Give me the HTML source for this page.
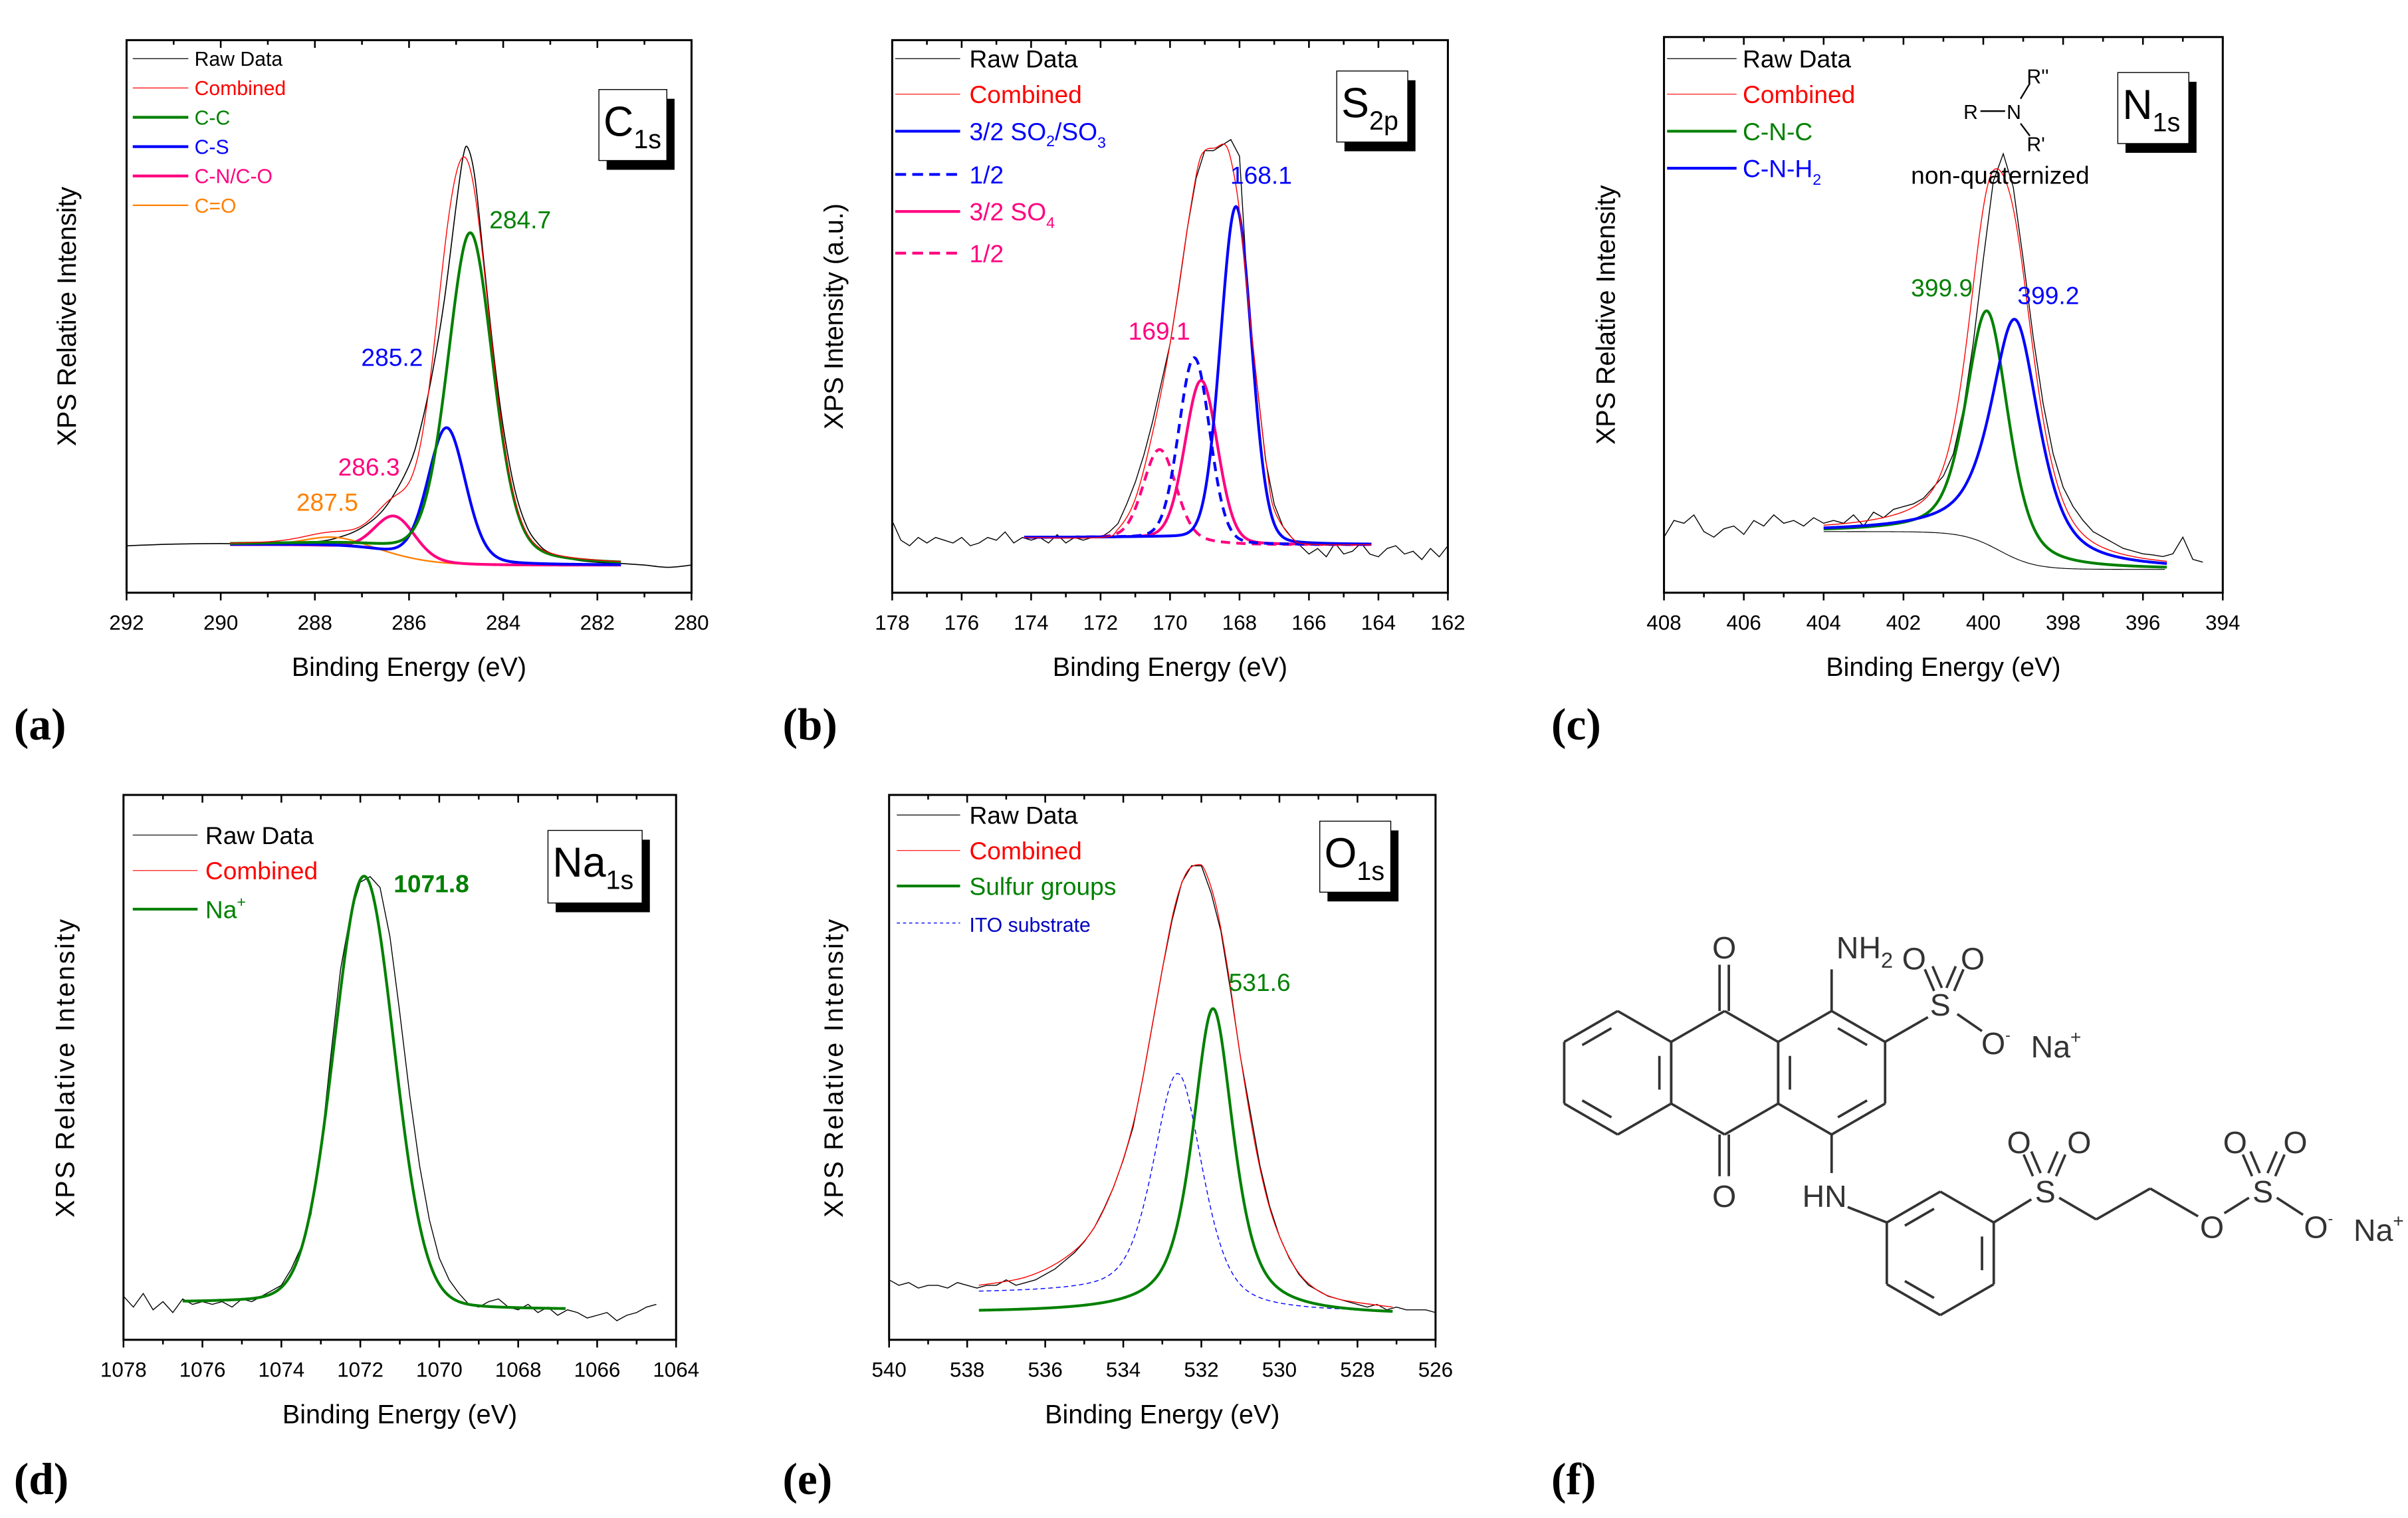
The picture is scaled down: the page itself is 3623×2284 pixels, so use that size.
<!DOCTYPE html>
<html><head><meta charset="utf-8"><title>XPS spectra</title>
<style>
html,body{margin:0;padding:0;background:#fff;}
svg{display:block;font-family:"Liberation Sans",Arial,sans-serif;}
</style></head>
<body>
<svg id="fig" xmlns="http://www.w3.org/2000/svg" width="3623" height="2284" viewBox="0 0 1560 983.45" preserveAspectRatio="none">
<rect x="0" y="0" width="1560" height="983.45" fill="#fff"/>
<g id="mol" stroke="#333" stroke-width="1.6" fill="none"></g>
</svg>
<script>
// ---------- Panel (a) C1s ----------
const aTicks=[292,290,288,286,284,282,280];
const aPeakNames=["C-C","C-S","C-N/C-O","C=O"];
const aPeakCenters=[284.7,285.2,286.3,287.6];
const aPeakHeights=[0.60,0.245,0.07,0.016];
const aPeakWidths=[1.15,0.95,1.0,1.4];
const aPeakEta=[0.3,0.2,0.1,0.1];
const aBaseline=[0.087,0.05,286.3,0.5];
const aRawX=[292,291,290,289,288,287.5,287,286.5,286,285.75,285.5,285.25,285,284.85,284.75,284.6,284.4,284.2,284,283.75,283.5,283.25,283,282.5,282,281.5,281,280.5,280];
const aRawY=[0.085,0.088,0.089,0.088,0.092,0.10,0.118,0.155,0.23,0.30,0.40,0.53,0.70,0.79,0.805,0.75,0.59,0.43,0.30,0.185,0.12,0.088,0.072,0.06,0.055,0.053,0.05,0.046,0.05];
const aLabels=["284.7","285.2","286.3","287.5"];

// ---------- Panel (b) S2p ----------
const bTicks=[178,176,174,172,170,168,166,164,162];
const bPeakCenters=[168.1,169.3,169.1,170.3];
const bPeakHeights=[0.61,0.33,0.29,0.16];
const bPeakWidths=[1.05,1.05,1.1,1.1];
const bPeakEta=[0.1,0.1,0.1,0.1];
const bBaseline=[0.1,0.087,169,0.5];
const bCombX=[174.2,172,171.5,171,170.5,170,169.5,169.2,169,168.7,168.4,168.2,168,167.8,167.5,167.2,167,166.5,166,164.2];
const bCombY=[0.1,0.1,0.115,0.17,0.29,0.45,0.66,0.77,0.8,0.805,0.81,0.77,0.69,0.56,0.38,0.22,0.15,0.1,0.088,0.087];
const bRawY=[0.13,0.095,0.085,0.1,0.09,0.1,0.095,0.09,0.1,0.085,0.09,0.1,0.095,0.11,0.09,0.1,
 0.095,0.1,0.09,0.105,0.09,0.1,0.095,0.1,
 0.1,0.11,0.125,0.16,0.2,0.25,0.31,0.38,0.45,
 0.55,0.66,0.75,0.8,0.8,0.81,0.82,0.79,
 0.53,0.38,0.24,0.16,0.12,0.1,0.085,0.07,
 0.08,0.065,0.09,0.07,0.075,0.09,0.07,0.065,0.08,0.085,0.07,0.075,0.06,0.08,0.065,0.085];
const bLabels=["168.1","169.1"];

// ---------- Panel (c) N1s ----------
const cTicks=[408,406,404,402,400,398,396,394];
const cPeakCenters=[399.9,399.2];
const cPeakHeights=[0.42,0.43];
const cPeakWidths=[1.25,1.45];
const cPeakEta=[0.5,0.7];
const cBaseline=[0.11,0.042,399.6,0.45];
const cRawY=[0.1,0.13,0.125,0.14,0.11,0.1,0.115,0.12,0.105,0.13,0.12,0.14,0.125,0.13,0.12,0.135,0.125,
 0.13,0.125,0.14,0.12,0.145,0.135,0.15,0.155,0.16,0.17,0.19,0.21,
 0.25,0.33,0.45,0.6,0.74,0.79,0.73,0.6,0.46,0.34,0.25,
 0.19,0.155,0.13,0.11,0.1,0.09,0.08,0.075,0.07,0.068,
 0.065,0.07,0.1,0.06,0.055];
const cLabels=["399.9","399.2"];

// ---------- Panel (d) Na1s ----------
const dTicks=[1078,1076,1074,1072,1070,1068,1066,1064];
const dPeakCenters=[1071.9];
const dPeakHeights=[0.79];
const dPeakWidths=[1.8];
const dPeakEta=[0.1];
const dBaseline=[0.068,0.055,1072,0.5];
const dRawY=[0.08,0.06,0.085,0.055,0.07,0.05,0.075,0.065,0.07,
 0.065,0.07,0.06,0.075,0.07,0.08,0.09,0.1,0.13,0.17,0.23,
 0.35,0.52,0.68,0.78,0.84,0.85,0.83,0.74,0.6,0.45,
 0.32,0.22,0.15,0.11,0.085,0.065,0.06,0.07,0.075,0.06,
 0.055,0.065,0.05,0.06,0.045,0.055,0.05,0.04,0.045,0.05,0.035,0.045,0.05,0.06,0.065];
const dLabels=["1071.8"];

// ---------- Panel (e) O1s ----------
const eTicks=[540,538,536,534,532,530,528,526];
const ePeakCenters=[531.7,532.6];
const ePeakHeights=[0.56,0.42];
const ePeakWidths=[1.25,1.5];
const ePeakEta=[0.7,0.5];
const eBaseline=[0.062,0.045,531.5,0.7];
const eCombX=[537.7,536.5,535.5,534.8,534.2,533.7,533.3,533,532.7,532.4,532.1,531.9,531.6,531.3,531,530.6,530.2,529.7,529.2,528.5,527.1];
const eCombY=[0.1,0.115,0.15,0.2,0.29,0.41,0.56,0.68,0.79,0.855,0.872,0.86,0.79,0.67,0.52,0.35,0.23,0.145,0.1,0.075,0.06];
const eRawY=[0.11,0.1,0.105,0.095,0.1,0.1,0.095,0.105,0.1,0.095,0.1,0.1,0.11,0.1,0.105,0.11,
 0.12,0.13,0.145,0.16,0.18,0.205,0.24,0.28,0.33,0.39,
 0.48,0.58,0.68,0.77,0.84,0.87,0.87,0.82,0.75,0.64,0.52,0.42,
 0.32,0.245,0.19,0.15,0.12,0.1,0.09,0.08,0.075,0.07,0.065,
 0.06,0.065,0.055,0.06,0.055,0.055,0.055,0.05];
const eLabels=["531.6"];

const NS="http://www.w3.org/2000/svg";
const svg=document.getElementById('fig');
const GREEN="#008000",BLUE="#0000ff",PINK="#ff0080",ORANGE="#ff8000",RED="#ff0000";

function mk(tag,attrs,parent){const e=document.createElementNS(NS,tag);for(const k in attrs)e.setAttribute(k,attrs[k]);(parent||svg).appendChild(e);return e;}
function pv(x,c,h,w,eta){const t=(x-c)/w;return h*(eta/(1+4*t*t)+(1-eta)*Math.exp(-4*Math.LN2*t*t));}
function bl(x,b){return b[1]+(b[0]-b[1])/(1+Math.exp(-(x-b[2])/b[3]));}

function makeAxes(P){
  const sx=v=>P.x0+(P.xl-v)/(P.xl-P.xr)*(P.x1-P.x0);
  const sy=f=>P.yb-f*(P.yb-P.yt);
  return {sx,sy};
}
function framePanel(P,ticks,g){
  const {sx}=makeAxes(P);
  const fr=mk('rect',{x:P.x0,y:P.yt,width:P.x1-P.x0,height:P.yb-P.yt,fill:'none',stroke:'#000','stroke-width':1.3},g);
  
  
  const tg=mk('g',{},g);
  
  
  const step=(ticks[0]-ticks[1])/2;
  for(let v=ticks[0];v>=ticks[ticks.length-1]-1e-9;v-=step){
    const major=Math.abs((ticks[0]-v)/(ticks[0]-ticks[1])-Math.round((ticks[0]-v)/(ticks[0]-ticks[1])))<1e-6;
    const L=major?5:3;
    mk('line',{x1:sx(v),x2:sx(v),y1:P.yb,y2:P.yb+L,stroke:'#000','stroke-width':1.1},tg);
    mk('line',{x1:sx(v),x2:sx(v),y1:P.yt,y2:P.yt+L,stroke:'#000','stroke-width':1.1},tg);
  }
  ticks.forEach(v=>{
    const t=mk('text',{x:sx(v),y:P.yb+24,'font-size':13.5,'text-anchor':'middle'},tg);
    t.textContent=String(v);
    
    
  });
  const xt=mk('text',{x:(P.x0+P.x1)/2,y:P.yb+54,'font-size':17,'text-anchor':'middle'},g);
  xt.textContent='Binding Energy (eV)';
  
  
  const ty=(P.yt+P.yb)/2;
  const yt=mk('text',{x:P.ylx,y:ty,'font-size':17,'text-anchor':'middle',transform:`rotate(-90 ${P.ylx} ${ty})`,'letter-spacing':P.yls||0},g);
  yt.textContent=P.ytitle;
  
  
  const pl=mk('text',{x:P.plx,y:P.ply,'font-size':29,'font-weight':'bold','font-family':'"Liberation Serif",serif'},g);
  pl.textContent=P.label;
  
  
}
function pathFrom(xs,ys,ax){return xs.map((x,i)=>(i?'L':'M')+ax.sx(x).toFixed(2)+','+ax.sy(ys[i]).toFixed(2)).join(' ');}
function smoothPath(xs,ys,ax){
  const p=xs.map((x,i)=>[ax.sx(x),ax.sy(ys[i])]);
  let d='M'+p[0][0]+','+p[0][1];
  for(let i=0;i<p.length-1;i++){
    const p0=p[i-1]||p[i],p1=p[i],p2=p[i+1],p3=p[i+2]||p2;
    const c1=[p1[0]+(p2[0]-p0[0])/6,p1[1]+(p2[1]-p0[1])/6];
    const c2=[p2[0]-(p3[0]-p1[0])/6,p2[1]-(p3[1]-p1[1])/6];
    d+=` C${c1[0].toFixed(2)},${c1[1].toFixed(2)} ${c2[0].toFixed(2)},${c2[1].toFixed(2)} ${p2[0].toFixed(2)},${p2[1].toFixed(2)}`;
  }
  return d;
}
function compCurve(ax,from,to,c,h,w,eta,base){
  const xs=[],ys=[];
  for(let x=from;x>=to-1e-9;x-=0.02){xs.push(x);ys.push(bl(x,base)+pv(x,c,h,w,eta));}
  return pathFrom(xs,ys,ax);
}
function sumCurve(ax,from,to,C,H,W,E,base){
  const xs=[],ys=[];
  for(let x=from;x>=to-1e-9;x-=0.02){let s=bl(x,base);for(let i=0;i<C.length;i++)s+=pv(x,C[i],H[i],W[i],E[i]);xs.push(x);ys.push(s);}
  return pathFrom(xs,ys,ax);
}
function gridX(start,step,n){const a=[];for(let i=0;i<n;i++)a.push(start-i*step);return a;}
function legend(g,x0,x1,tx,fs,rows){
  rows.forEach(r=>{
    const lg=mk('g',{},g);
    
    
    mk('line',{x1:x0,x2:x1,y1:r.y,y2:r.y,stroke:r.stroke,'stroke-width':r.sw,'stroke-dasharray':r.dash||'none'},lg);
    const t=mk('text',{x:tx,y:r.y+fs*0.36,'font-size':r.fs||fs,fill:r.color},lg);
    t.innerHTML=r.html;
  });
}
function textAt(g,x,y,s,fs,color,name,extra){
  const t=mk('text',Object.assign({x:x,y:y,'font-size':fs,fill:color},extra||{}),g);
  t.innerHTML=s;
  
  
  return t;
}
function elemBox(g,x,y,w,h,main,sub){
  const bg=mk('g',{},g);
  
  
  mk('rect',{x:x+5,y:y+6,width:w,height:h,fill:'#000'},bg);
  mk('rect',{x:x,y:y,width:w,height:h,fill:'#fff',stroke:'#000','stroke-width':0.6},bg);
  const t=mk('text',{x:x+3,y:y+30,'font-size':27},bg);
  t.innerHTML=main+`<tspan font-size="17" dy="8">${sub}</tspan>`;
}

// ---------- draw panel a ----------
(function(){
  const P={x0:82,x1:448,yt:26,yb:384,xl:292,xr:280,ylx:49,ytitle:'XPS Relative Intensity',label:'(a)',plx:9,ply:479};
  const g=mk('g',{});
  
  
  framePanel(P,aTicks,g);
  const ax=makeAxes(P);
  const raw=mk('path',{d:smoothPath(aRawX,aRawY,ax),fill:'none',stroke:'#000','stroke-width':0.7},g);
  
  
  const cols=[GREEN,BLUE,PINK,ORANGE],sws=[1.8,1.8,1.8,1.0];
  for(let i=aPeakCenters.length-1;i>=0;i--){
    const p=mk('path',{d:compCurve(ax,289.8,281.5,aPeakCenters[i],aPeakHeights[i],aPeakWidths[i],aPeakEta[i],aBaseline),fill:'none',stroke:cols[i],'stroke-width':sws[i]},g);
    
    
  }
  const cb=mk('path',{d:sumCurve(ax,289.8,281.5,aPeakCenters,aPeakHeights,aPeakWidths,aPeakEta,aBaseline),fill:'none',stroke:RED,'stroke-width':0.6},g);
  
  
  legend(g,86,122,126,13,[
    {y:38,stroke:'#000',sw:0.5,color:'#000',html:'Raw Data'},
    {y:57,stroke:RED,sw:0.5,color:RED,html:'Combined'},
    {y:76,stroke:GREEN,sw:1.8,color:GREEN,html:'C-C'},
    {y:95,stroke:BLUE,sw:1.8,color:BLUE,html:'C-S'},
    {y:114,stroke:PINK,sw:1.8,color:PINK,html:'C-N/C-O'},
    {y:133,stroke:ORANGE,sw:1.0,color:ORANGE,html:'C=O'}]);
  textAt(g,317,148,aLabels[0],16,GREEN,'peak-label-284-7');
  textAt(g,234,237,aLabels[1],16,BLUE,'peak-label-285-2');
  textAt(g,219,308,aLabels[2],16,PINK,'peak-label-286-3');
  textAt(g,192,331,aLabels[3],16,ORANGE,'peak-label-287-5');
  elemBox(g,388,58,44,46,'C','1s');
})();

// ---------- draw panel b ----------
(function(){
  const P={x0:578,x1:938,yt:26,yb:384,xl:178,xr:162,ylx:546,ytitle:'XPS Intensity (a.u.)',label:'(b)',plx:507,ply:479};
  const g=mk('g',{});
  
  
  framePanel(P,bTicks,g);
  const ax=makeAxes(P);
  const rx=gridX(178,0.25,bRawY.length);
  const raw=mk('path',{d:pathFrom(rx,bRawY,ax),fill:'none',stroke:'#000','stroke-width':0.6},g);
  
  
  const sty=[[BLUE,'none','comp-3-2-so2-so3'],[BLUE,'6 4','comp-1-2-so2-so3'],[PINK,'none','comp-3-2-so4'],[PINK,'6 4','comp-1-2-so4']];
  for(let i=bPeakCenters.length-1;i>=0;i--){
    const p=mk('path',{d:compCurve(ax,174.2,164.2,bPeakCenters[i],bPeakHeights[i],bPeakWidths[i],bPeakEta[i],bBaseline),fill:'none',stroke:sty[i][0],'stroke-width':1.8,'stroke-dasharray':sty[i][1]},g);
    
    
  }
  const cb=mk('path',{d:smoothPath(bCombX,bCombY,ax),fill:'none',stroke:RED,'stroke-width':0.6},g);
  
  
  legend(g,580,622,628,16,[
    {y:38,stroke:'#000',sw:0.5,color:'#000',html:'Raw Data'},
    {y:61,stroke:RED,sw:0.5,color:RED,html:'Combined'},
    {y:85,stroke:BLUE,sw:1.8,color:BLUE,html:'3/2 SO<tspan font-size="10" dy="4">2</tspan><tspan dy="-4">/SO</tspan><tspan font-size="10" dy="5">3</tspan>'},
    {y:113,stroke:BLUE,sw:1.8,dash:'7 4',color:BLUE,html:'1/2'},
    {y:137,stroke:PINK,sw:1.8,color:PINK,html:'3/2 SO<tspan font-size="10" dy="5">4</tspan>'},
    {y:164,stroke:PINK,sw:1.8,dash:'7 4',color:PINK,html:'1/2'}]);
  textAt(g,797,119,bLabels[0],16,BLUE,'peak-label-168-1');
  textAt(g,731,220,bLabels[1],16,PINK,'peak-label-169-1');
  elemBox(g,866,46,46,46,'S','2p');
})();

// ---------- draw panel c ----------
(function(){
  const P={x0:1078,x1:1440,yt:24,yb:384,xl:408,xr:394,ylx:1046,ytitle:'XPS Relative Intensity',label:'(c)',plx:1005,ply:479};
  const g=mk('g',{});
  
  
  framePanel(P,cTicks,g);
  const ax=makeAxes(P);
  const rx=gridX(408,0.25,cRawY.length);
  const raw=mk('path',{d:pathFrom(rx,cRawY,ax),fill:'none',stroke:'#000','stroke-width':0.6},g);
  
  
  const bx=[],by=[];for(let x=404;x>=395.4;x-=0.05){bx.push(x);by.push(bl(x,cBaseline));}
  const bp=mk('path',{d:pathFrom(bx,by,ax),fill:'none',stroke:'#000','stroke-width':0.5},g);
  
  
  const cols=[GREEN,BLUE],nm=['comp-c-n-c','comp-c-n-h2'];
  for(let i=0;i<cPeakCenters.length;i++){
    const p=mk('path',{d:compCurve(ax,404,395.4,cPeakCenters[i],cPeakHeights[i],cPeakWidths[i],cPeakEta[i],cBaseline),fill:'none',stroke:cols[i],'stroke-width':1.8},g);
    
    
  }
  const cb=mk('path',{d:sumCurve(ax,404,395.4,cPeakCenters,cPeakHeights,cPeakWidths,cPeakEta,cBaseline),fill:'none',stroke:RED,'stroke-width':0.6},g);
  
  
  legend(g,1080,1125,1129,16,[
    {y:38,stroke:'#000',sw:0.5,color:'#000',html:'Raw Data'},
    {y:61,stroke:RED,sw:0.5,color:RED,html:'Combined'},
    {y:85,stroke:GREEN,sw:1.8,color:GREEN,html:'C-N-C'},
    {y:109,stroke:BLUE,sw:1.8,color:BLUE,html:'C-N-H<tspan font-size="10" dy="5">2</tspan>'}]);
  textAt(g,1238,192,cLabels[0],16,GREEN,'peak-label-399-9');
  textAt(g,1307,197,cLabels[1],16,BLUE,'peak-label-399-2');
  const ins=mk('g',{},g);
  
  
  textAt(ins,1272,77,'R',13,'#000','inset-r');
  mk('line',{x1:1283,x2:1299,y1:72,y2:72,stroke:'#000','stroke-width':1},ins);
  textAt(ins,1300,77,'N',13,'#000','inset-n');
  mk('line',{x1:1309,x2:1315,y1:64,y2:54,stroke:'#000','stroke-width':1},ins);
  mk('line',{x1:1309,x2:1315,y1:80,y2:88,stroke:'#000','stroke-width':1},ins);
  textAt(ins,1313,54,"R''",13,'#000','inset-r2');
  textAt(ins,1313,98,"R'",13,'#000','inset-r1');
  textAt(g,1238,119,'non-quaternized',16,'#000','non-quaternized-label');
  elemBox(g,1372,47,46,46,'N','1s');
})();

// ---------- draw panel d ----------
(function(){
  const P={x0:80,x1:438,yt:515,yb:868,xl:1078,xr:1064,ylx:48,yls:1.2,ytitle:'XPS Relative Intensity',label:'(d)',plx:9,ply:968};
  const g=mk('g',{});
  
  
  framePanel(P,dTicks,g);
  const ax=makeAxes(P);
  const rx=gridX(1078,0.25,dRawY.length);
  const raw=mk('path',{d:pathFrom(rx,dRawY,ax),fill:'none',stroke:'#000','stroke-width':0.6},g);
  
  
  const cb=mk('path',{d:sumCurve(ax,1076.5,1066.8,dPeakCenters,dPeakHeights,dPeakWidths,dPeakEta,dBaseline),fill:'none',stroke:RED,'stroke-width':0.6},g);
  
  
  const p=mk('path',{d:compCurve(ax,1076.5,1066.8,dPeakCenters[0],dPeakHeights[0],dPeakWidths[0],dPeakEta[0],dBaseline),fill:'none',stroke:GREEN,'stroke-width':1.8},g);
  
  
  legend(g,86,128,133,16,[
    {y:541,stroke:'#000',sw:0.5,color:'#000',html:'Raw Data'},
    {y:564,stroke:RED,sw:0.5,color:RED,html:'Combined'},
    {y:589,stroke:GREEN,sw:1.8,color:GREEN,html:'Na<tspan font-size="10" dy="-7">+</tspan>'}]);
  textAt(g,255,578,dLabels[0],16,GREEN,'peak-label-1071-8',{'font-weight':'bold'});
  elemBox(g,355,538,61,47,'Na','1s');
})();

// ---------- draw panel e ----------
(function(){
  const P={x0:576,x1:930,yt:515,yb:868,xl:540,xr:526,ylx:546,yls:1.2,ytitle:'XPS Relative Intensity',label:'(e)',plx:507,ply:968};
  const g=mk('g',{});
  
  
  framePanel(P,eTicks,g);
  const ax=makeAxes(P);
  const rx=gridX(540,0.25,eRawY.length);
  const raw=mk('path',{d:pathFrom(rx,eRawY,ax),fill:'none',stroke:'#000','stroke-width':0.6},g);
  
  
  const ito=mk('path',{d:compCurve(ax,537.7,527.1,ePeakCenters[1],ePeakHeights[1],ePeakWidths[1],ePeakEta[1],[0.085,0.05,532.5,0.8]),fill:'none',stroke:BLUE,'stroke-width':0.6,'stroke-dasharray':'3 2'},g);
  
  
  const gr=mk('path',{d:compCurve(ax,537.7,527.1,ePeakCenters[0],ePeakHeights[0],ePeakWidths[0],ePeakEta[0],[0.05,0.045,531.5,0.7]),fill:'none',stroke:GREEN,'stroke-width':1.8},g);
  
  
  const cb=mk('path',{d:smoothPath(eCombX,eCombY,ax),fill:'none',stroke:RED,'stroke-width':0.6},g);
  
  
  legend(g,581,622,628,16,[
    {y:528,stroke:'#000',sw:0.5,color:'#000',html:'Raw Data'},
    {y:551,stroke:RED,sw:0.5,color:RED,html:'Combined'},
    {y:574,stroke:GREEN,sw:1.8,color:GREEN,html:'Sulfur groups'},
    {y:598,stroke:BLUE,sw:0.6,dash:'2 2',color:'#0000c0',fs:13,html:'ITO substrate'}]);
  textAt(g,796,642,eLabels[0],16,GREEN,'peak-label-531-6');
  elemBox(g,855,532,46,46,'O','1s');
})();

// ---------- (f) molecule ----------
(function(){
  const m=document.getElementById('mol');
  const L=(x1,y1,x2,y2)=>mk('line',{x1,y1,x2,y2},m);
  function hex(cx,cy,r,inner){
    const v=[];for(let k=0;k<6;k++){const a=(-90+60*k)*Math.PI/180;v.push([cx+r*Math.cos(a),cy+r*Math.sin(a)]);}
    for(let k=0;k<6;k++){const a=v[k],b=v[(k+1)%6];L(a[0],a[1],b[0],b[1]);}
    (inner||[]).forEach(k=>{const a=v[k],b=v[(k+1)%6];const f=0.78;
      const ia=[cx+(a[0]-cx)*f,cy+(a[1]-cy)*f],ib=[cx+(b[0]-cx)*f,cy+(b[1]-cy)*f];
      const sa=[ia[0]+(ib[0]-ia[0])*0.15,ia[1]+(ib[1]-ia[1])*0.15],sb=[ib[0]+(ia[0]-ib[0])*0.15,ib[1]+(ia[1]-ib[1])*0.15];
      L(sa[0],sa[1],sb[0],sb[1]);});
    return v;
  }
  hex(1048,695,40,[1,3,5]);
  hex(1117.3,695,40,[]);
  hex(1186.6,695,40,[0,2,4]);
  hex(1257,812,40,[1,3,5]);
  L(1114,655,1114,625);L(1120,655,1120,625);
  L(1114,735,1114,762);L(1120,735,1120,762);
  L(1186.6,655,1186.6,628);
  L(1221.2,675,1249,659);
  L(1253,642,1247,628);L(1258,640,1252,626);
  L(1266,642,1272,628);L(1261,640,1267,626);
  L(1268,657,1284,668);
  L(1186.6,735,1186.6,760);L(1197,782,1222.4,792);
  L(1291.6,792,1316,777);
  L(1317,762,1311,748);L(1322,760,1316,746);
  L(1332,762,1338,748);L(1327,760,1333,746);
  L(1334,776,1358,790);L(1358,790,1393,770);L(1393,770,1424,788);
  L(1441,786,1457,776);
  L(1459,762,1453,748);L(1464,760,1458,746);
  L(1474,762,1480,748);L(1469,760,1475,746);
  L(1475,776,1492,787);
  const T=(x,y,s,fs,name)=>{const t=mk('text',{x,y,'font-size':fs,fill:'#333','text-anchor':'middle',stroke:'none'},svg);t.innerHTML=s;};
  T(1117,621,'O',20,'atom-o');T(1117,782,'O',20,'atom-o');
  T(1208,621,'NH<tspan font-size="14" dy="6">2</tspan>',20,'atom-nh2');
  T(1257,658,'S',20,'atom-s');T(1240,628,'O',20,'atom-o');T(1278,628,'O',20,'atom-o');
  T(1293,683,'O<tspan font-size="10" dy="-9">-</tspan>',20,'atom-o-minus');
  T(1332,685,'Na<tspan font-size="12" dy="-9">+</tspan>',20,'atom-na-plus');
  T(1182,782,'HN',20,'atom-hn');
  T(1325,779,'S',20,'atom-s');T(1308,747,'O',20,'atom-o');T(1347,747,'O',20,'atom-o');
  T(1433,802,'O',20,'atom-o');
  T(1466,779,'S',20,'atom-s');T(1448,747,'O',20,'atom-o');T(1487,747,'O',20,'atom-o');
  T(1502,802,'O<tspan font-size="10" dy="-9">-</tspan>',20,'atom-o-minus');
  T(1541,804,'Na<tspan font-size="12" dy="-9">+</tspan>',20,'atom-na-plus');
  const fl=mk('text',{x:1005,y:968,'font-size':29,'font-weight':'bold','font-family':'"Liberation Serif",serif'},svg);
  fl.textContent='(f)';
  
  
})();
</script>
</body></html>
